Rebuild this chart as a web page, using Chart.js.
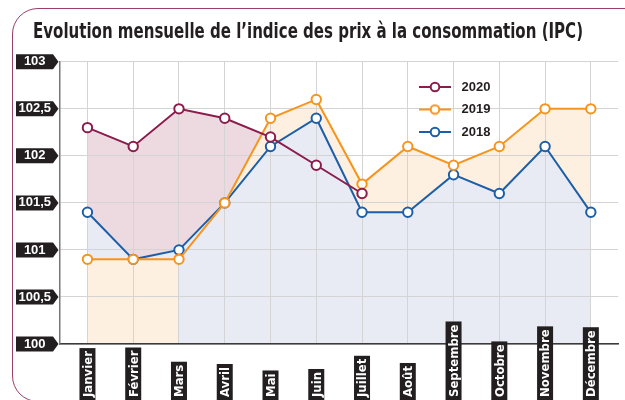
<!DOCTYPE html>
<html><head><meta charset="utf-8">
<script src="https://cdn.jsdelivr.net/npm/chart.js@4"></script>
<style>
html,body{margin:0;padding:0;background:#fff;overflow:hidden}
#wrap{position:relative;width:625px;height:400px;overflow:hidden}
#frame{position:absolute;left:12px;top:8px;width:640px;height:394px;border:1.5px solid #9c3d6b;border-radius:26px;box-sizing:border-box}
canvas{position:absolute;left:0;top:0}
</style></head><body>
<div id="wrap"><div id="frame"></div><canvas id="c" width="625" height="400"></canvas></div>
<script>
const months = ['Janvier','Février','Mars','Avril','Mai','Juin','Juillet','Août','Septembre','Octobre','Novembre','Décembre'];
const ipc2020 = [102.3,102.1,102.5,102.4,102.2,101.9,101.6];
const ipc2019 = [100.9,100.9,100.9,101.5,102.4,102.6,101.7,102.1,101.9,102.1,102.5,102.5];
const ipc2018 = [101.4,100.9,101.0,101.5,102.1,102.4,101.4,101.4,101.8,101.6,102.1,101.4];
const yTickLabels = ['100','100,5','101','101,5','102','102,5','103'];
const seriesNames = ['2020','2019','2018'];

const C2020 = '#8a1d4c', C2019 = '#f7941d', C2018 = '#1c5fa8';
const PINK = '#eddae0', PEACH = '#fdf0e0', LAV = '#e8eaf4';
const NONE = 'rgba(0,0,0,0)';
const NARROW = "'Liberation Sans Narrow', 'Arial Narrow', 'DejaVu Sans Condensed', sans-serif";
const SANS = "'Liberation Sans', Arial, sans-serif";

const pts = arr => arr.map((v, i) => ({x: i, y: v}));

function icon(color) {
  const c = document.createElement('canvas');
  c.width = 34; c.height = 12;
  const g = c.getContext('2d');
  g.strokeStyle = color; g.lineWidth = 2;
  g.beginPath(); g.moveTo(1, 6); g.lineTo(33, 6); g.stroke();
  g.beginPath(); g.arc(17, 6, 4.3, 0, Math.PI * 2);
  g.fillStyle = '#fff'; g.fill(); g.stroke();
  return c;
}
const icons = [icon(C2020), icon(C2019), icon(C2018)];

function lineDs(label, arr, color, order) {
  return {label, data: pts(arr), borderColor: color, borderWidth: 2, backgroundColor: '#fff',
    pointRadius: 4.7, pointBorderWidth: 2, pointBackgroundColor: '#fff', pointBorderColor: color,
    fill: false, order, tension: 0};
}
function fillDs(arr, fill, color, order, extra) {
  return Object.assign({label: '_fill', data: pts(arr), borderWidth: 0, borderColor: NONE,
    pointRadius: 0, backgroundColor: color, fill, order, tension: 0}, extra || {});
}

const deco = {
  id: 'deco',
  afterLayout(chart) {
    const lg = chart.legend;
    if (lg) { lg.left = 405.5; lg.right = 560; lg.top = 71; lg.bottom = 200; }
    const tb = chart.titleBlock;
    if (tb) { tb.left = 33; tb.right = 583; }
  },
  beforeDraw(chart) {
    const ctx = chart.ctx, ys = chart.scales.y;
    ctx.save();
    ctx.fillStyle = '#231f20';
    ys.ticks.forEach(t => {
      const y = ys.getPixelForValue(t.value);
      ctx.beginPath();
      ctx.moveTo(16, y - 7.5); ctx.lineTo(53, y - 7.5); ctx.lineTo(58.5, y);
      ctx.lineTo(53, y + 7.5); ctx.lineTo(16, y + 7.5); ctx.closePath(); ctx.fill();
    });
    ctx.restore();
  },
  afterDraw(chart) {
    const ctx = chart.ctx, xs = chart.scales.x;
    ctx.save();
    ctx.font = "bold 13px " + NARROW;
    months.forEach((m, i) => {
      const x = xs.getPixelForValue(i);
      const w = ctx.measureText(m).width;
      ctx.fillStyle = '#231f20';
      ctx.fillRect(x - 8, 399 - w - 5, 16, w + 6);
      ctx.save();
      ctx.translate(x + 1, 397);
      ctx.rotate(-Math.PI / 2);
      ctx.fillStyle = '#fff';
      ctx.textAlign = 'left';
      ctx.textBaseline = 'middle';
      ctx.fillText(m, 0, 0);
      ctx.restore();
    });
    ctx.restore();
  }
};

new Chart(document.getElementById('c'), {
  type: 'line',
  data: {
    datasets: [
      lineDs(seriesNames[0], ipc2020, C2020, 1),
      lineDs(seriesNames[1], ipc2019, C2019, 2),
      lineDs(seriesNames[2], ipc2018, C2018, 3),
      fillDs(ipc2020, 'origin', PINK, 10),
      fillDs(ipc2018, 'origin', LAV, 9),
      fillDs(ipc2019, {target: 2, above: PEACH, below: NONE}, PEACH, 8),
      fillDs(ipc2019, 'origin', PEACH, 7, {segment: {backgroundColor: c => c.p0DataIndex < 2 ? PEACH : NONE}})
    ]
  },
  options: {
    responsive: false, animation: false, devicePixelRatio: 1, events: [],
    layout: {padding: {left: 14, top: 12, right: 0, bottom: 56}},
    scales: {
      x: {type: 'linear', min: -0.6, max: 11.6,
        afterBuildTicks: s => { s.ticks = months.map((_, i) => ({value: i})); },
        ticks: {display: false},
        grid: {color: '#d4d4d4', lineWidth: 1, drawTicks: false},
        border: {color: '#3a3a3a', width: 1.5}
      },
      y: {min: 100, max: 103,
        afterFit: s => { s.width = 46; },
        ticks: {stepSize: 0.5, padding: 9, crossAlign: 'center', color: '#fff',
          font: {family: SANS, size: 13, weight: 'bold'},
          callback: (v, i) => yTickLabels[i]},
        grid: {color: '#d4d4d4', lineWidth: 1, drawTicks: false},
        border: {color: '#777', width: 1.5}
      }
    },
    plugins: {
      filler: {drawTime: 'beforeDraw'},
      tooltip: {enabled: false},
      title: {display: true, align: 'start', text: 'Evolution mensuelle de l\u2019indice des prix à la consommation (IPC)',
        color: '#231f20', font: {family: NARROW, size: 21, weight: 'bold'}, padding: {top: 8, bottom: 16.6}},
      legend: {display: true, position: 'chartArea', align: 'start',
        labels: {usePointStyle: true, pointStyleWidth: 40, padding: 9.5, color: '#231f20', textAlign: 'left',
          font: {family: SANS, size: 13, weight: 'bold'},
          generateLabels: chart => Chart.defaults.plugins.legend.labels.generateLabels(chart)
            .filter(it => it.datasetIndex < 3)
            .map(it => Object.assign(it, {pointStyle: icons[it.datasetIndex], fontColor: '#231f20'}))
        }
      }
    }
  },
  plugins: [deco]
});
</script>
</body></html>
